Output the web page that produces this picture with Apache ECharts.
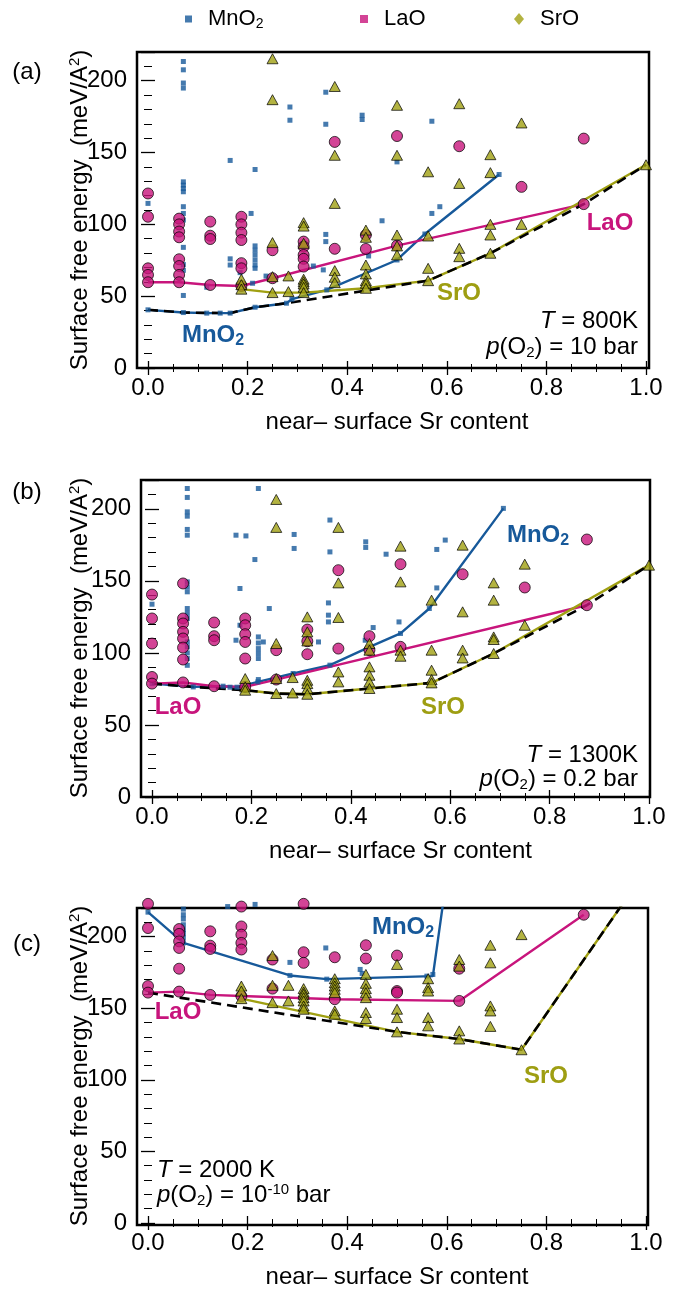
<!DOCTYPE html>
<html><head><meta charset="utf-8">
<script src="https://cdn.jsdelivr.net/npm/echarts@6/dist/echarts.min.js"></script>
<style>html,body{margin:0;padding:0;background:#fff}#c{width:690px;height:1290px}</style>
</head><body><div id="c"></div>
<script>
// ---------------- DATA (x = near-surface Sr content, y = surface free energy, meV/A^2) ----------------
const xTickLabels = ['0.0','0.2','0.4','0.6','0.8','1.0'];
const yTickLabels = ['0','50','100','150','200'];
const phases = ['MnO2','LaO','SrO'];

// panel (a): T = 800K, p(O2) = 10 bar
const mnA = [[0,114.6],[0,40.5],
 [0.071,213.4],[0.071,207.6],[0.071,198.4],[0.071,194.9],[0.071,129.6],[0.071,127.3],[0.071,125],[0.071,122.7],
 [0.071,112.3],[0.071,107.6],[0.071,103],[0.071,84],[0.071,72],[0.071,68],[0.071,50.5],[0.071,38.6],
 [0.118,56.2],[0.118,38.2],[0.145,38.2],[0.165,144.5],[0.165,76],[0.165,71.7],[0.165,38.2],[0.185,66.4],[0.21,59],
 [0.207,107.6],[0.215,138.2],[0.215,85],[0.215,82],[0.215,78.7],[0.215,75.2],[0.215,71.7],[0.215,69.4],[0.215,42.3],
 [0.237,64],[0.278,45.1],[0.285,181.7],[0.285,172.5],[0.289,47.9],[0.332,71],[0.352,68.3],
 [0.357,192],[0.357,169.7],[0.357,93],[0.357,88],[0.359,54.4],[0.43,176],[0.43,173],[0.443,78],[0.47,102.5],
 [0.5,143.5],[0.5,75.2],[0.556,93.3],[0.57,171.8],[0.57,107.6],[0.586,112.3],[0.705,134.7]];
const laA = [[0,121.5],[0,105.3],[0,69.4],[0,64.8],[0,59.7],
 [0.0625,104],[0.0625,100],[0.0625,95],[0.0625,91],[0.0625,75.7],[0.0625,71],[0.0625,64.8],[0.0625,59.7],
 [0.125,101.9],[0.125,92.1],[0.125,89.8],[0.125,57.8],
 [0.1875,105.3],[0.1875,100],[0.1875,94.2],[0.1875,89.1],[0.1875,73],[0.1875,69.4],[0.1875,57.1],
 [0.25,82],[0.25,62.5],[0.3125,88],[0.3125,84.5],[0.3125,78.7],[0.3125,76],[0.3125,70.6],
 [0.375,157.4],[0.375,83],[0.4375,92.6],[0.4375,82.9],[0.5,161.5],[0.5,85.2],[0.625,154.4],[0.75,126.1],
 [0.875,159.7],[0.875,114.1]];
const srA = [[0.1875,61.8],[0.1875,58],[0.1875,54.9],
 [0.25,215.3],[0.25,186.8],[0.25,87.3],[0.25,63.6],[0.25,52.5],[0.282,64.1],[0.282,53.2],
 [0.3125,101.2],[0.3125,98.8],[0.3125,86.8],[0.3125,61.8],[0.3125,60.1],[0.3125,58.5],[0.3125,56.2],[0.3125,52.5],
 [0.375,196],[0.375,148.1],[0.375,114.6],[0.375,67.8],[0.375,63.2],[0.375,59.4],
 [0.4375,96],[0.4375,91],[0.4375,71.7],[0.4375,65.5],[0.4375,60.8],[0.4375,59],[0.4375,55.5],
 [0.5,182.9],[0.5,148.1],[0.5,92.6],[0.5,85],[0.5,78.7],
 [0.5625,136.6],[0.5625,91.9],[0.5625,69.4],[0.5625,60.8],
 [0.625,184],[0.625,128.5],[0.625,83.3],[0.625,77.5],
 [0.6875,148.5],[0.6875,136],[0.6875,100],[0.6875,92.6],[0.6875,79.9],
 [0.75,170.6],[0.75,100],[1.0,141.5]];
const mnLineA = [[0,40.5],[0.071,38.6],[0.118,38.2],[0.165,38.2],[0.215,42.3],[0.278,45.1],[0.289,47.9],[0.359,54.4],[0.5,75.2],[0.556,93.3],[0.705,134.7]];
const laLineA = [[0,59.7],[0.0625,59.7],[0.125,57.8],[0.1875,57.1],[0.25,62.5],[0.5,85.2],[0.875,114.1]];
const srLineA = [[0.1875,54.9],[0.25,52.5],[0.3125,52.5],[0.4375,55.5],[0.5625,60.8],[0.6875,79.9],[1.0,141.5]];
const hullA = [[0,40.5],[0.071,38.6],[0.165,38.2],[0.215,42.3],[0.278,45.1],[0.5625,60.8],[0.6875,79.9],[0.875,114.1],[1.0,141.5]];

// panel (b): T = 1300K, p(O2) = 0.2 bar
const mnB = [[0,133.8],[0,78.7],
 [0.071,214.1],[0.071,207.9],[0.071,197.9],[0.071,194.9],[0.071,185.7],[0.071,181.7],[0.071,149.3],[0.071,145.8],
 [0.071,142.4],[0.071,130.8],[0.071,127.4],[0.071,123.9],[0.071,107.6],[0.071,104.2],[0.071,100],[0.071,96.1],[0.071,91.4],
 [0.083,76.4],[0.143,76.9],[0.157,76.2],[0.171,76.2],[0.169,181.7],[0.169,108.8],[0.177,144.7],[0.177,119.2],[0.189,181.2],
 [0.207,164.8],[0.214,214.1],[0.214,111.1],[0.214,106.9],[0.214,103],[0.214,99.6],[0.214,96.1],[0.214,81.5],[0.213,79.9],
 [0.224,107.6],[0.236,130.8],[0.284,85.7],[0.286,182.2],[0.286,172.5],[0.335,107.6],
 [0.355,134.7],[0.355,126.2],[0.355,121.5],[0.358,192.2],[0.358,170.1],[0.358,91.5],
 [0.429,108.8],[0.43,177.1],[0.43,173.2],[0.438,104.2],[0.445,117.6],[0.471,168.5],[0.497,121.5],[0.5,113.5],
 [0.558,130.8],[0.573,171.8],[0.573,145.1],[0.59,178.3],[0.707,200.3]];
const laB = [[0,140.5],[0,123.9],[0,106.5],[0,83.3],[0,78.7],
 [0.0625,148.2],[0.0625,123.9],[0.0625,120.4],[0.0625,114.6],[0.0625,110],[0.0625,103.7],[0.0625,95.4],[0.0625,79.5],
 [0.125,121.1],[0.125,111.6],[0.125,108.8],[0.125,76.9],
 [0.1875,123.9],[0.1875,119.2],[0.1875,113],[0.1875,107.6],[0.1875,96.1],[0.1875,76.4],
 [0.25,101.9],[0.25,81.5],[0.3125,116.2],[0.3125,108.1],[0.3125,99.1],[0.375,157.4],[0.375,103],
 [0.4375,111.6],[0.4375,101.9],[0.5,161.6],[0.5,104.2],[0.625,154.6],[0.75,145.4],[0.875,178.7],[0.875,133.1]];
const srB = [[0.1875,82.2],[0.1875,76.4],[0.1875,74.1],
 [0.25,206.5],[0.25,187.1],[0.25,106.5],[0.25,82.2],[0.25,71.8],[0.283,82.9],[0.283,72.2],
 [0.3125,125],[0.3125,114.6],[0.3125,108.3],[0.3125,81],[0.3125,78.7],[0.3125,75.3],[0.3125,71.3],
 [0.375,187.1],[0.375,148.6],[0.375,124.6],[0.375,86.8],[0.375,79.9],
 [0.4375,106.5],[0.4375,101.9],[0.4375,90.3],[0.4375,84.5],[0.4375,79.9],[0.4375,75.3],
 [0.5,174.1],[0.5,149.3],[0.5,101.9],[0.5,97.7],
 [0.5625,136.6],[0.5625,101.9],[0.5625,88],[0.5625,81.5],[0.5625,79.2],
 [0.625,174.8],[0.625,128.5],[0.625,101.9],[0.625,96.5],
 [0.6875,148.6],[0.6875,136.6],[0.6875,111.1],[0.6875,109.3],[0.6875,99.6],
 [0.75,161.6],[0.75,119.2],[1.0,160.9]];
const mnLineB = [[0,78.7],[0.083,76.4],[0.143,76.9],[0.171,76.2],[0.213,79.9],[0.284,85.7],[0.358,91.5],[0.438,104.2],[0.5,113.5],[0.558,130.8],[0.707,200.3]];
const laLineB = [[0,78.7],[0.0625,79.5],[0.125,76.9],[0.1875,76.4],[0.25,81.5],[0.875,133.1]];
const srLineB = [[0.1875,74.1],[0.25,71.8],[0.3125,71.3],[0.4375,75.3],[0.5625,79.2],[0.6875,99.6],[1.0,160.9]];
const hullB = [[0,78.7],[0.083,76.4],[0.1875,74.1],[0.25,71.8],[0.3125,71.3],[0.4375,75.3],[0.5625,79.2],[0.6875,99.6],[0.875,133.1],[1.0,160.9]];

// panel (c): T = 2000 K, p(O2) = 1e-10 bar
const mnC = [[0,217.1],
 [0.071,219.2],[0.071,215.3],[0.071,212.3],[0.071,208.3],[0.071,204.9],[0.071,202.1],[0.071,199.1],[0.071,195.6],
 [0.16,221],[0.215,222.5],[0.285,182],[0.285,172.9],[0.357,192.1],[0.359,170.3],[0.426,177.1],[0.43,174.3],
 [0.56,172.4],[0.572,173.6]];
const laC = [[0,222.9],[0,206],[0,165.5],[0,160.9],
 [0.0625,205.3],[0.0625,201.9],[0.0625,196.7],[0.0625,192.1],[0.0625,177.6],[0.0625,161.6],
 [0.125,203.7],[0.125,193.7],[0.125,191.4],[0.125,159.3],
 [0.1875,221],[0.1875,207.1],[0.1875,201.4],[0.1875,195.6],[0.1875,191],[0.1875,158.5],
 [0.25,184],[0.25,163.7],[0.3125,222.9],[0.3125,189.1],[0.3125,181.7],[0.375,185.6],[0.375,156.3],
 [0.4375,194],[0.4375,184.7],[0.5,186.8],[0.5,162],[0.5,160.9],[0.625,177.6],[0.625,155.1],[0.875,215.3]];
const srC = [[0.1875,165.5],[0.1875,162],[0.1875,156.7],
 [0.25,186.8],[0.25,166],[0.25,153.9],[0.282,166],[0.282,155.1],
 [0.3125,163.7],[0.3125,161.3],[0.3125,159.7],[0.3125,157.4],[0.3125,155.1],[0.3125,151.6],[0.3125,149.3],
 [0.375,170.6],[0.375,167.8],[0.375,165.5],[0.375,163.2],[0.375,160.9],[0.375,148.1],[0.375,145.8],
 [0.4375,173.6],[0.4375,167.4],[0.4375,163.7],[0.4375,160.9],[0.4375,157.4],[0.4375,147],[0.4375,142.8],
 [0.5,180.6],[0.5,149.3],[0.5,143.5],[0.5,133.5],
 [0.5625,170.6],[0.5625,164.4],[0.5625,162],[0.5625,143.5],[0.5625,137.7],
 [0.625,184],[0.625,179.4],[0.625,134.2],[0.625,128.5],
 [0.6875,194],[0.6875,181.7],[0.6875,151.6],[0.6875,148.1],[0.6875,137.3],
 [0.75,201.4],[0.75,121]];
const mnLineC = [[0,217.1],[0.071,195.6],[0.285,172.9],[0.359,170.3],[0.572,172.4],[0.6,242]];
const laLineC = [[0,160.9],[0.0625,161.6],[0.125,159.3],[0.1875,158.5],[0.375,156.3],[0.625,155.1],[0.875,215.3]];
const srLineC = [[0.1875,156.7],[0.5,133.5],[0.625,128.5],[0.75,121],[1.0,246.5]];
const hullC = [[0,160.9],[0.5,133.5],[0.625,128.5],[0.75,121],[1.0,246.5]];

// ---------------- STYLE / LAYOUT ----------------
const FONT = '"Liberation Sans", Arial, Helvetica, sans-serif';
const C_MN = '#17599a', C_LA = '#c8157c', C_SR = '#a0a012', C_SR_TXT = '#9e9e12';
const layout = [
  {left:148, width:498, top:52,  height:316, fl:137, fr:649},
  {left:152, width:497, top:480, height:317, fl:141, fr:650},
  {left:148, width:498, top:908, height:317, fl:137, fr:648}
];
const panelData = [
  {mn:mnA, la:laA, sr:srA, mnL:mnLineA, laL:laLineA, srL:srLineA, hull:hullA},
  {mn:mnB, la:laB, sr:srB, mnL:mnLineB, laL:laLineB, srL:srLineB, hull:hullB},
  {mn:mnC, la:laC, sr:srC, mnL:mnLineC, laL:laLineC, srL:srLineC, hull:hullC}
];

const grid = [], xAxis = [], yAxis = [], series = [];
const tickLine = {color:'#000', width:1.3};
layout.forEach((L, i) => {
  const gi = grid.length;
  grid.push({left:L.left, top:L.top, width:L.width, height:L.height});
  grid.push({left:L.fl, top:L.top, width:L.fr - L.fl, height:L.height, show:true,
             borderColor:'#000', borderWidth:2.5, backgroundColor:'rgba(0,0,0,0)'});
  const xb = xAxis.length;
  xAxis.push({gridIndex:gi, type:'value', min:0, max:1, interval:0.2, position:'bottom',
    axisLine:{show:false}, splitLine:{show:false},
    axisTick:{inside:true, length:7, lineStyle:tickLine},
    minorTick:{show:true, splitNumber:4, length:4, lineStyle:{color:'#000', width:1}},
    axisLabel:{fontSize:24, color:'#000', margin:8, fontFamily:FONT,
      formatter: v => xTickLabels[Math.round(v/0.2)]},
    name:'near\u2013 surface Sr content', nameLocation:'middle', nameGap:42,
    nameTextStyle:{fontSize:24, color:'#000', fontFamily:FONT}});
  xAxis.push({gridIndex:gi, type:'value', min:0, max:1, interval:0.2, position:'top',
    axisLine:{show:false}, splitLine:{show:false}, axisLabel:{show:false},
    axisTick:{inside:true, length:7, lineStyle:tickLine},
    minorTick:{show:true, splitNumber:4, length:4, lineStyle:{color:'#000', width:1}}});
  xAxis.push({gridIndex:gi+1, type:'value', show:false, min:0, max:1});
  const yb = yAxis.length;
  yAxis.push({gridIndex:gi, type:'value', min:0, max:220, interval:50, position:'left',
    offset:L.left - L.fl, axisLine:{show:false}, splitLine:{show:false},
    axisTick:{inside:true, length:7, lineStyle:tickLine},
    minorTick:{show:true, splitNumber:5, length:4, lineStyle:{color:'#000', width:1}},
    axisLabel:{fontSize:24, color:'#000', margin:10, fontFamily:FONT, showMaxLabel:false,
      formatter: v => yTickLabels[Math.round(v/50)] || ''}});
  yAxis.push({gridIndex:gi, type:'value', min:0, max:220, interval:50, position:'right',
    offset:L.fr - (L.left + L.width), axisLine:{show:false}, splitLine:{show:false}, axisLabel:{show:false},
    axisTick:{inside:true, length:7, lineStyle:tickLine},
    minorTick:{show:true, splitNumber:5, length:4, lineStyle:{color:'#000', width:1}}});
  yAxis.push({gridIndex:gi+1, type:'value', show:false, min:0, max:220});

  const D = panelData[i];
  const base = {xAxisIndex:xb, yAxisIndex:yb, animation:false, silent:true};
  const line = (data, color, z, extra) => Object.assign({}, base, {type:'line', data, symbol:'none',
    lineStyle:Object.assign({color, width:2.4}, extra || {}), z});
  series.push(line(D.mnL, C_MN, 2));
  series.push(line(D.laL, C_LA, 2));
  series.push(line(D.srL, C_SR, 2));
  series.push(line(D.hull, '#000', 3, {width:2.6, type:[10,6]}));
  series.push(Object.assign({}, base, {type:'scatter', name:'MnO2', data:D.mn, symbol:'rect', symbolSize:5,
    itemStyle:{color:C_MN}, clip:false, z:4}));
  series.push(Object.assign({}, base, {type:'scatter', name:'LaO', data:D.la, symbol:'circle', symbolSize:11,
    itemStyle:{color:C_LA, borderColor:'#000', borderWidth:0.9}, clip:false, z:5}));
  series.push(Object.assign({}, base, {type:'scatter', name:'SrO', data:D.sr, symbol:'triangle', symbolSize:[11,10],
    itemStyle:{color:C_SR, borderColor:'#000', borderWidth:0.9}, clip:false, z:6}));
});

// ---------------- TEXT ----------------
const richBase = {
  s:{fontSize:15, fontFamily:FONT, padding:[11,0,0,0]},
  u:{fontSize:15, fontFamily:FONT, padding:[0,0,11,0]},
  i:{fontSize:24, fontFamily:FONT, fontStyle:'italic'}
};
const richBold = {
  s:{fontSize:16, fontFamily:FONT, fontWeight:'bold', padding:[12,0,0,0]}
};
function txt(text, x, y, opt) {
  opt = opt || {};
  return {type:'text', x, y, rotation:opt.rot || 0, z:100, silent:true,
    style:{text, fontSize:24, fontFamily:FONT, fontWeight:opt.bold ? 'bold' : 'normal',
      fill:opt.color || '#000', align:opt.align || 'center', verticalAlign:'middle',
      rich: opt.bold ? Object.keys(richBold).reduce((o,k)=>{o[k]=Object.assign({fill:opt.color},richBold[k]);return o;},{}) :
        Object.keys(richBase).reduce((o,k)=>{o[k]=Object.assign({fill:opt.color||'#000'},richBase[k]);return o;},{})}};
}
const yTitle = 'Surface free energy  (meV/A{u|2})';
const graphic = [
  txt('(a)', 27, 72), txt('(b)', 27, 492), txt('(c)', 27, 944),
  txt(yTitle, 80, 210, {rot:Math.PI/2}), txt(yTitle, 80, 638, {rot:Math.PI/2}), txt(yTitle, 80, 1066, {rot:Math.PI/2}),
  // panel (a)
  txt('MnO{s|2}', 213, 335, {bold:true, color:C_MN}),
  txt('SrO', 459, 293, {bold:true, color:C_SR_TXT}),
  txt('LaO', 610, 223, {bold:true, color:C_LA}),
  txt('{i|T} = 800K', 638, 321, {align:'right'}),
  txt('{i|p}(O{s|2}) = 10 bar', 638, 347, {align:'right'}),
  // panel (b)
  txt('LaO', 178, 707, {bold:true, color:C_LA}),
  txt('SrO', 443, 707, {bold:true, color:C_SR_TXT}),
  txt('MnO{s|2}', 538, 535, {bold:true, color:C_MN}),
  txt('{i|T} = 1300K', 638, 755, {align:'right'}),
  txt('{i|p}(O{s|2}) = 0.2 bar', 638, 779, {align:'right'}),
  // panel (c)
  txt('MnO{s|2}', 403, 927, {bold:true, color:C_MN}),
  txt('LaO', 178, 1012, {bold:true, color:C_LA}),
  txt('SrO', 546, 1076, {bold:true, color:C_SR_TXT}),
  txt('{i|T} = 2000 K', 157, 1170, {align:'left'}),
  txt('{i|p}(O{s|2}) = 10{u|-10} bar', 157, 1195, {align:'left'})
];

const legendText = {fontSize:22, fontFamily:FONT, color:'#000', padding:[0,0,0,11],
  rich:{s:{fontSize:14, fontFamily:FONT, color:'#000', padding:[10,0,0,0]}}};
const legend = [
  {data:[{name:phases[0], icon:'rect', itemStyle:{color:C_MN, borderWidth:0}}], left:180, top:3, itemWidth:7, itemHeight:7,
   textStyle:legendText, formatter: n => 'MnO{s|2}', selectedMode:false},
  {data:[{name:phases[1], icon:'rect', itemStyle:{color:C_LA, borderWidth:0}}], left:355, top:3, itemWidth:8, itemHeight:8,
   textStyle:legendText, selectedMode:false},
  {data:[{name:phases[2], icon:'diamond', itemStyle:{color:C_SR, borderWidth:0}}], left:509, top:3, itemWidth:10, itemHeight:12,
   textStyle:legendText, selectedMode:false}
];

const chart = echarts.init(document.getElementById('c'), null, {renderer:'canvas'});
chart.setOption({animation:false, backgroundColor:'#fff', grid, xAxis, yAxis, series, graphic, legend});
</script></body></html>
